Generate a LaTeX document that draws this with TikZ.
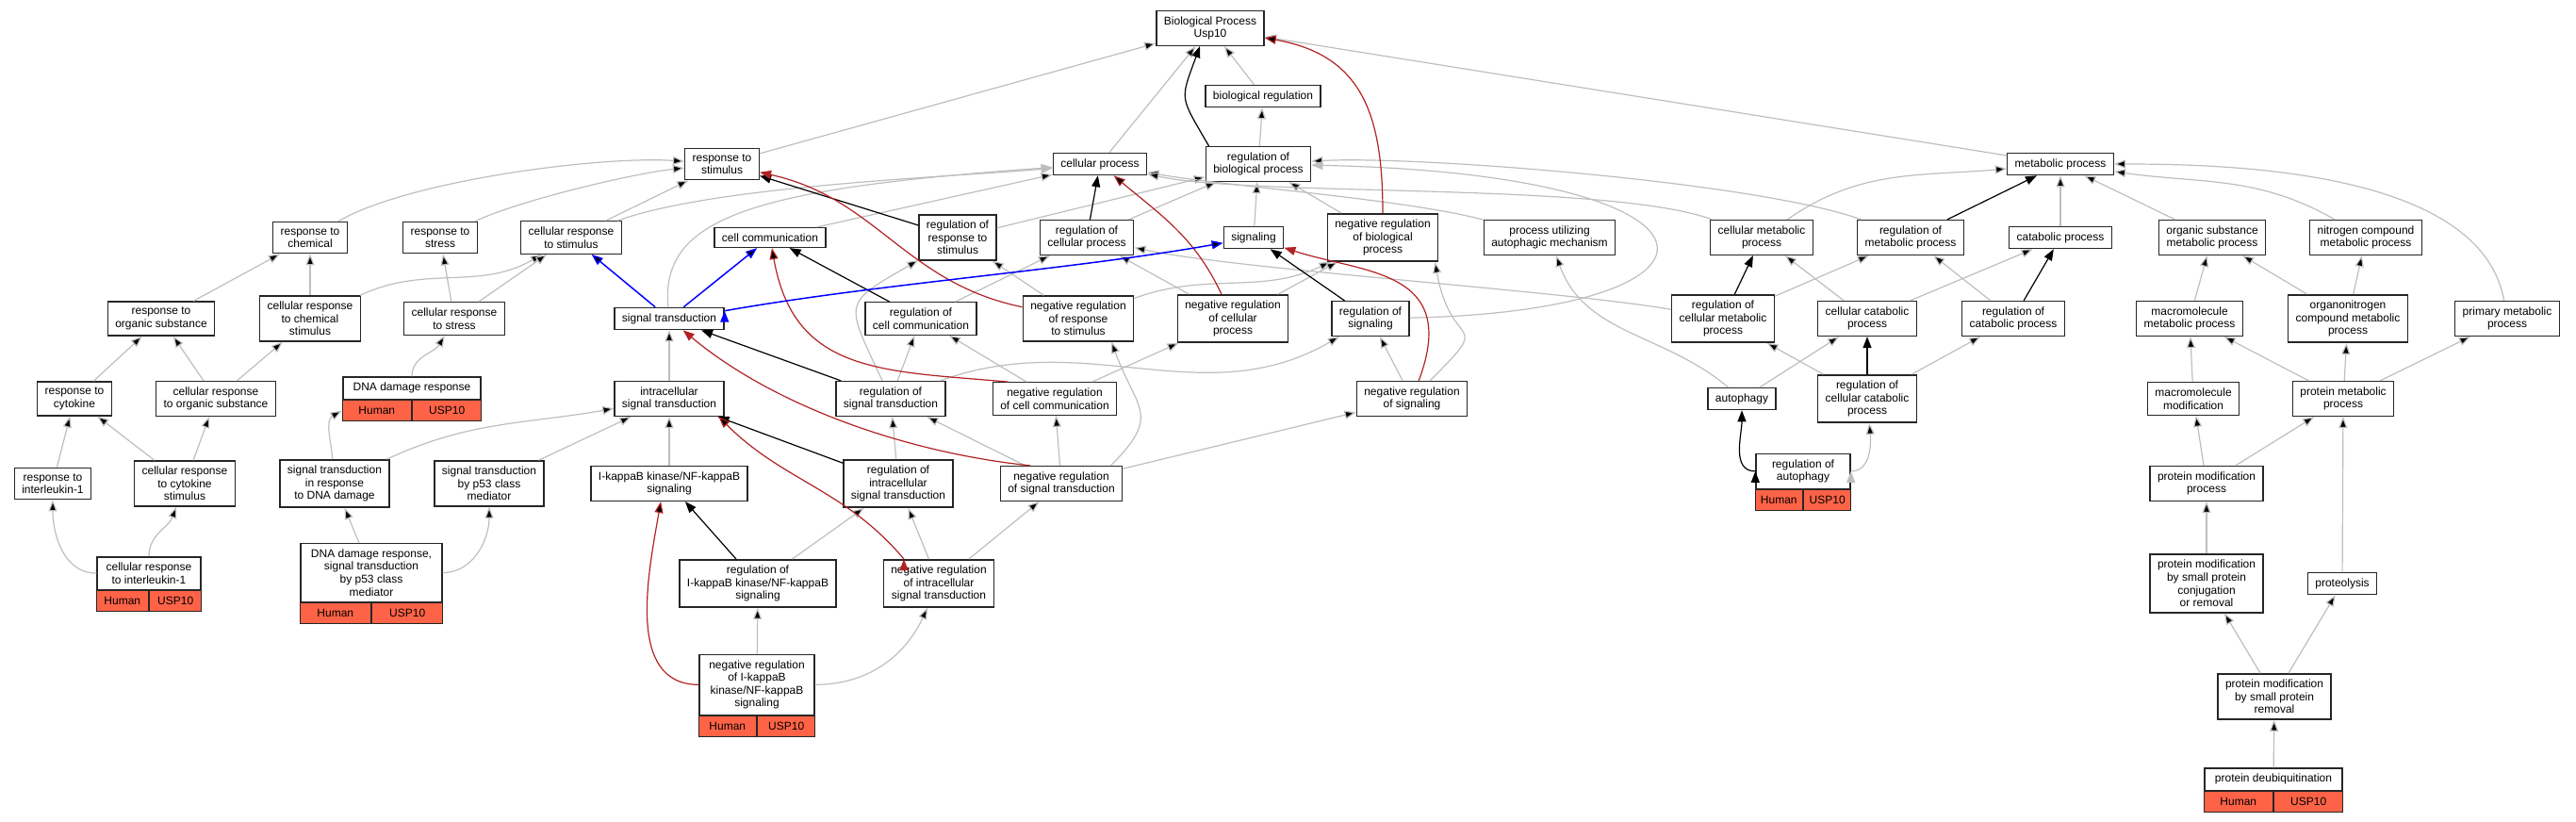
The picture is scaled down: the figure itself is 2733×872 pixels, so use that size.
\documentclass[tikz,border=0pt]{standalone}
\usepackage{fontspec}
\setmainfont{Liberation Sans}
\usetikzlibrary{arrows.meta}

\definecolor{isagray}{HTML}{BEBEBE}
\definecolor{negred}{HTML}{B22222}
\definecolor{hitred}{HTML}{FF6347}

\begin{document}
\begin{tikzpicture}[x=1pt, y=1pt,
	font=\fontsize{12}{13.6}\selectfont,
	term/.style={draw=black!85, line width=1.4pt, fill=white, align=center, inner xsep=8pt, inner ysep=6pt},
	hit/.style={draw=black!85, line width=1.4pt, fill=hitred, minimum height=22pt, inner sep=0pt},
	isa/.style={draw=isagray, line width=1.2pt, -{Triangle[length=12pt, width=9pt]}},
	reg/.style={isa, draw=black},
	negreg/.style={isa, draw=negred},
	partof/.style={isa, draw=blue, line width=1.5pt}]
	\useasboundingbox (0,0) rectangle (2733,-872);

	\node[term] (bp) at (1284,-30) {Biological Process\\Usp10};
	\node[term] (bioreg) at (1340,-102) {biological regulation};

	\node[term] (resp) at (766,-174) {response to\\stimulus};
	\node[term] (cellproc) at (1167,-174) {cellular process};
	\node[term] (regbio) at (1335,-174) {regulation of\\biological process};
	\node[term] (metab) at (2186,-174) {metabolic process};

	\node[term] (respchem) at (329,-252) {response to\\chemical};
	\node[term] (respstress) at (467,-252) {response to\\stress};
	\node[term] (cellresp) at (606,-252) {cellular response\\to stimulus};
	\node[term] (cellcomm) at (817,-252) {cell communication};
	\node[term] (regresp) at (1016,-252) {regulation of\\response to\\stimulus};
	\node[term] (regcell) at (1153,-252) {regulation of\\cellular process};
	\node[term] (signaling) at (1330,-252) {signaling};
	\node[term] (negbio) at (1467,-252) {negative regulation\\of biological\\process};
	\node[term] (autmech) at (1644,-252) {process utilizing\\autophagic mechanism};
	\node[term] (cellmetab) at (1869,-252) {cellular metabolic\\process};
	\node[term] (regmetab) at (2027,-252) {regulation of\\metabolic process};
	\node[term] (catab) at (2186,-252) {catabolic process};
	\node[term] (orgmetab) at (2347,-252) {organic substance\\metabolic process};
	\node[term] (nitmetab) at (2510,-252) {nitrogen compound\\metabolic process};

	\node[term] (resporg) at (171,-338) {response to\\organic substance};
	\node[term] (cellchem) at (329,-338) {cellular response\\to chemical\\stimulus};
	\node[term] (cellstress) at (482,-338) {cellular response\\to stress};
	\node[term] (sigtrans) at (710,-338) {signal transduction};
	\node[term] (regcomm) at (977,-338) {regulation of\\cell communication};
	\node[term] (negresp) at (1144,-338) {negative regulation\\of response\\to stimulus};
	\node[term] (negcell) at (1308,-338) {negative regulation\\of cellular\\process};
	\node[term] (regsig) at (1454,-338) {regulation of\\signaling};
	\node[term] (regcellmetab) at (1828,-338) {regulation of\\cellular metabolic\\process};
	\node[term] (cellcatab) at (1981,-338) {cellular catabolic\\process};
	\node[term] (regcatab) at (2136,-338) {regulation of\\catabolic process};
	\node[term] (macmetab) at (2323,-338) {macromolecule\\metabolic process};
	\node[term] (orgnit) at (2491,-338) {organonitrogen\\compound metabolic\\process};
	\node[term] (primetab) at (2660,-338) {primary metabolic\\process};

	\node[term] (respcyto) at (79,-423) {response to\\cytokine};
	\node[term] (cellorg) at (229,-423) {cellular response\\to organic substance};
	\node[term, minimum width=146pt, anchor=south] (dnadam) at (437,-424) {DNA damage response};
	\node[hit, minimum width=73pt, anchor=north east] (dnadam-h) at (dnadam.south) {Human};
	\node[hit, minimum width=73pt, anchor=north west] (dnadam-u) at (dnadam.south) {USP10};
	\node[term] (intrasig) at (710,-423) {intracellular\\signal transduction};
	\node[term] (regsigtrans) at (945,-423) {regulation of\\signal transduction};
	\node[term] (negcomm) at (1119,-423) {negative regulation\\of cell communication};
	\node[term] (negsig) at (1498,-423) {negative regulation\\of signaling};
	\node[term] (autophagy) at (1848,-423) {autophagy};
	\node[term] (regcellcatab) at (1981,-423) {regulation of\\cellular catabolic\\process};
	\node[term] (macmod) at (2327,-423) {macromolecule\\modification};
	\node[term] (protmetab) at (2486,-423) {protein metabolic\\process};

	\node[term] (respil) at (56,-513) {response to\\interleukin-1};
	\node[term] (cellcyto) at (196,-513) {cellular response\\to cytokine\\stimulus};
	\node[term] (sigdna) at (355,-513) {signal transduction\\in response\\to DNA damage};
	\node[term] (sigp53) at (519,-513) {signal transduction\\by p53 class\\mediator};
	\node[term] (ikb) at (710,-513) {I-kappaB kinase/NF-kappaB\\signaling};
	\node[term] (regintra) at (953,-513) {regulation of\\intracellular\\signal transduction};
	\node[term] (negsigtrans) at (1126,-513) {negative regulation\\of signal transduction};
	\node[term, minimum width=100pt, anchor=south] (regauto) at (1913,-519) {regulation of\\autophagy};
	\node[hit, minimum width=50pt, anchor=north east] (regauto-h) at (regauto.south) {Human};
	\node[hit, minimum width=50pt, anchor=north west] (regauto-u) at (regauto.south) {USP10};
	\node[term] (protmod) at (2341,-513) {protein modification\\process};

	\node[term, minimum width=110pt, anchor=south] (cellil) at (158,-626) {cellular response\\to interleukin-1};
	\node[hit, minimum width=55pt, anchor=north east] (cellil-h) at (cellil.south) {Human};
	\node[hit, minimum width=55pt, anchor=north west] (cellil-u) at (cellil.south) {USP10};
	\node[term, minimum width=150pt, anchor=south] (dnap53) at (394,-639) {DNA damage response,\\signal transduction\\by p53 class\\mediator};
	\node[hit, minimum width=75pt, anchor=north east] (dnap53-h) at (dnap53.south) {Human};
	\node[hit, minimum width=75pt, anchor=north west] (dnap53-u) at (dnap53.south) {USP10};
	\node[term] (regikb) at (804,-619) {regulation of\\I-kappaB kinase/NF-kappaB\\signaling};
	\node[term] (negintra) at (996,-619) {negative regulation\\of intracellular\\signal transduction};
	\node[term] (protconj) at (2341,-619) {protein modification\\by small protein\\conjugation\\or removal};
	\node[term] (proteo) at (2485,-619) {proteolysis};

	\node[term, minimum width=122pt, anchor=south] (negikb) at (803,-759) {negative regulation\\of I-kappaB\\kinase/NF-kappaB\\signaling};
	\node[hit, minimum width=61pt, anchor=north east] (negikb-h) at (negikb.south) {Human};
	\node[hit, minimum width=61pt, anchor=north west] (negikb-u) at (negikb.south) {USP10};
	\node[term] (protrem) at (2413,-739) {protein modification\\by small protein\\removal};

	\node[term, minimum width=146pt, anchor=south] (deubiq) at (2412,-839) {protein deubiquitination};
	\node[hit, minimum width=73pt, anchor=north east] (deubiq-h) at (deubiq.south) {Human};
	\node[hit, minimum width=73pt, anchor=north west] (deubiq-u) at (deubiq.south) {USP10};

	\path [isa]
	(resp) edge (bp)
	(cellproc) edge (bp)
	(bioreg) edge (bp)
	(metab) edge (bp)
	(regbio) edge (bioreg)
	(respchem) edge[out=30, in=176, looseness=0.6] (resp)
	(respstress) edge[out=25, in=186, looseness=0.6] (resp)
	(cellresp) edge (resp)
	    edge[out=20, in=185, looseness=0.6] (cellproc)
	(cellcomm) edge (cellproc)
	(regresp) edge (regbio)
	(regcell) edge (regbio)
	(signaling) edge (regbio)
	(negbio) edge (regbio)
	(regmetab) edge[out=160, in=3, looseness=0.5] (regbio)
	(autmech) edge[out=165, in=-10, looseness=0.6] (cellproc)
	(cellmetab) edge[out=160, in=-12, looseness=0.5] (cellproc)
	    edge[out=35, in=185] (metab)
	(catab) edge (metab)
	(orgmetab) edge (metab)
	(nitmetab) edge[out=150, in=-8] (metab)
	(primetab) edge[out=100, in=0, looseness=0.8] (metab)
	(resporg) edge (respchem)
	(cellchem) edge (respchem)
	    edge[out=25, in=-150] (cellresp)
	(cellstress) edge (respstress)
	    edge (cellresp)
	(regcomm) edge (regcell)
	(negresp) edge (regresp)
	    edge[out=20, in=-155] (negbio)
	(negcell) edge (regcell)
	    edge (negbio)
	(regcellmetab) edge[out=170, in=-12, looseness=0.5] (regcell)
	    edge (regmetab)
	(cellcatab) edge (cellmetab)
	    edge (catab)
	(regcatab) edge (regmetab)
	(macmetab) edge (orgmetab)
	(orgnit) edge (orgmetab)
	    edge (nitmetab)
	(respcyto) edge (resporg)
	(cellorg) edge (resporg)
	    edge (cellchem)
	(dnadam) edge[out=90, in=-120] (cellstress)
	(intrasig) edge (sigtrans)
	(regsigtrans) edge (regcomm)
	    edge[out=115, in=-150, looseness=1.8] (regresp)
	    edge[out=20, in=-150] (regsig)
	(negcomm) edge (regcomm)
	    edge (negcell)
	(negsig) edge (regsig)
	    edge[out=45, in=-80, looseness=2] (negbio.-25)
	(autophagy) edge[out=140, in=-70] (autmech)
	    edge (cellcatab)
	(regcellcatab) edge (regcellmetab)
	    edge (regcatab)
	(macmod) edge (macmetab)
	(protmetab) edge (macmetab)
	    edge (orgnit)
	    edge (primetab)
	(respil) edge (respcyto)
	(cellcyto) edge (respcyto)
	    edge (cellorg)
	(sigdna) edge[out=95, in=-150] (dnadam-h.west)
	    edge[out=25, in=-170] (intrasig)
	(sigp53) edge (intrasig)
	(ikb) edge (intrasig)
	(regintra) edge (regsigtrans)
	(negsigtrans) edge (regsigtrans)
	    edge (negcomm)
	    edge (negsig)
	(negsigtrans.20) edge[out=45, in=-70, looseness=1.5] (negresp.-35)
	(regauto.east) edge[out=0, in=-85] (regcellcatab)
	(protmod) edge (macmod)
	    edge (protmetab)
	(cellil) edge[out=180, in=-90] (respil)
	    edge[out=90, in=-110] (cellcyto)
	(dnap53) edge (sigdna)
	    edge[out=0, in=-90] (sigp53)
	(regikb) edge (regintra)
	(negintra) edge (regintra)
	    edge (negsigtrans)
	(protconj) edge (protmod)
	(proteo) edge (protmetab)
	(negikb) edge (regikb)
	    edge[out=0, in=-115] (negintra)
	(protrem) edge (protconj)
	    edge (proteo)
	(deubiq) edge (protrem);
	\draw[isa] (sigtrans) .. controls (700,-230) and (800,-200) .. (cellproc);
	\draw[isa] (regsig) .. controls (1860,-330) and (1860,-185) .. (regbio);

	\path [reg]
	(regbio.160) edge[out=120, in=-110, looseness=1.5] (bp.-120)
	(regresp) edge (resp)
	(regcell) edge (cellproc)
	(regcomm) edge (cellcomm)
	(regsig) edge (signaling)
	(regsigtrans) edge (sigtrans)
	(regintra) edge (intrasig)
	(regikb) edge (ikb)
	(regmetab) edge (metab)
	(regcellmetab) edge (cellmetab)
	(regcellcatab) edge (cellcatab)
	(regcatab) edge (catab)
	(regauto.west) edge[out=180, in=-90] (autophagy);

	\path [negreg]
	(negbio) edge[out=90, in=-10, looseness=1.2] (bp)
	(negcell) edge[out=115, in=-40] (cellproc)
	(negcomm.160) edge[out=175, in=-80, looseness=1.2] (cellcomm)
	(negintra.145) edge[out=130, in=-45] (intrasig.-20)
	(negikb) edge[out=180, in=-100] (ikb.-115);
	\draw[negreg] (negresp) .. controls (960,-300) and (930,-210) .. (resp);
	\draw[negreg] (negsigtrans.150) .. controls (960,-480) and (820,-430) .. (sigtrans);
	\draw[negreg] (negsig) .. controls (1550,-285) and (1445,-290) .. (signaling);

	\path [partof]
	(sigtrans) edge (cellresp)
	    edge (cellcomm)
	(sigtrans.8) edge[out=10, in=-170, looseness=0.8] (signaling);
\end{tikzpicture}
\end{document}
